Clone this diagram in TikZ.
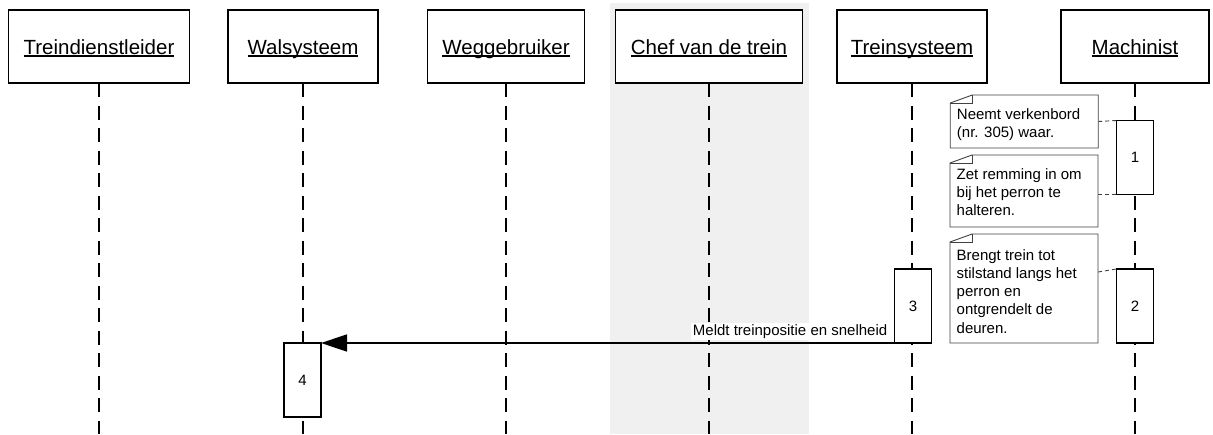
\documentclass[tikz,border=0pt]{standalone}
\usepackage{fontspec}
\setmainfont{Liberation Sans}
\usetikzlibrary{arrows.meta}
\definecolor{bandgray}{HTML}{F0F0F0}
\definecolor{notegray}{HTML}{404040}
% underlined participant name with a fixed underline position
\newcommand\ulname[1]{\setbox0=\hbox{#1}\rlap{\rule[-2.2pt]{\wd0}{1.2pt}}\box0}

\begin{document}
\begin{tikzpicture}[x=1pt,y=-1pt,
  actor/.style={draw, line width=1.5pt, fill=white, minimum height=73pt, inner sep=0pt,
    outer sep=0pt, text height=15.6pt, text depth=0pt, font=\fontsize{20.5}{24}\selectfont},
  life/.style={line width=1.7pt, dash pattern=on 14pt off 8.5pt},
  act/.style={draw, line width=1.5pt, fill=white, minimum width=37pt, minimum height=74pt,
    inner sep=0pt, outer sep=0pt, font=\fontsize{15}{18}\selectfont},
  notebox/.style={minimum width=148pt, inner sep=0pt, outer sep=0pt, draw=none},
  noteline/.style={draw=notegray, line width=0.9pt},
  notetext/.style={anchor=north west, inner sep=0pt, align=left, font=\fontsize{15}{18.3}\selectfont},
  notelink/.style={draw=notegray, line width=0.9pt, dash pattern=on 4pt off 3pt},
  msg/.style={line width=1.5pt, -{Triangle[length=26pt,width=17pt]}},
  msglabel/.style={fill=white, inner sep=1.5pt, anchor=base east, font=\fontsize{15}{18}\selectfont}
]
\useasboundingbox (0,0) rectangle (1213,434);

% highlighted column behind "Chef van de trein"
\fill[bandgray] (610,3) rectangle (809,434);

\coordinate (bottom) at (0,434);

% participants
\node[actor, minimum width=181pt] (tdl) at (99,46.5)   {\ulname{Treindienstleider}};
\node[actor, minimum width=150pt] (wal) at (303,46.5)  {\ulname{Walsysteem}};
\node[actor, minimum width=157pt] (weg) at (506,46.5)  {\ulname{Weggebruiker}};
\node[actor, minimum width=187pt] (chef) at (709,46.5) {\ulname{Chef van de trein}};
\node[actor, minimum width=150pt] (trs) at (912,46.5)  {\ulname{Treinsysteem}};
\node[actor, minimum width=148pt] (mac) at (1135,46.5) {\ulname{Machinist}};

% lifelines
\foreach \p in {tdl,wal,weg,chef,trs,mac}
  \draw[life] (\p.south) -- (\p.south |- bottom);

% activation bars
\node[act] (a1) at (1135,157.5) {1};
\node[act] (a2) at (1135,306)   {2};
\node[act] (a3) at (913,306)    {3};
\node[act] (a4) at (302.5,380)  {4};

% notes
\node[notebox, minimum height=53pt]  (n1) at (1024.25,121.5) {};
\node[notebox, minimum height=72pt]  (n2) at (1024,191)      {};
\node[notebox, minimum height=109pt] (n3) at (1024,288.5)    {};

\draw[notelink] (n1.east) -- (a1.north west);
\draw[notelink] (n2.east |- a1.south west) -- (a1.south west);
\draw[notelink] ([yshift=-38pt]n3.north east) -- (a2.north west);

\foreach \n in {n1,n2,n3}{
  \draw[noteline, fill=white] ([yshift=-8pt]\n.north west) -- ([xshift=22pt]\n.north west)
    -- (\n.north east) -- (\n.south east) -- (\n.south west) -- cycle;
  \draw[noteline] ([yshift=-8pt]\n.north west) -- ([xshift=22pt,yshift=-8pt]\n.north west)
    -- ([xshift=22pt]\n.north west);
}

\node[notetext] (n1t) at ([xshift=6.5pt,yshift=-13.2pt]n1.north west)
  {Neemt verkenbord\\(nr. 305) waar.};
\node[notetext] (n2t) at ([xshift=6.5pt,yshift=-13.2pt]n2.north west)
  {Zet remming in om\\bij het perron te\\halteren.};
\node[notetext] (n3t) at ([xshift=6.5pt,yshift=-15pt]n3.north west)
  {Brengt trein tot\\stilstand langs het\\perron en\\ontgrendelt de\\deuren.};

% message
\draw[msg] (a3.south west) -- (a4.north east)
  node[pos=0, msglabel, xshift=-5pt, yshift=8pt] (m1) {Meldt treinpositie en snelheid};
\end{tikzpicture}
\end{document}
